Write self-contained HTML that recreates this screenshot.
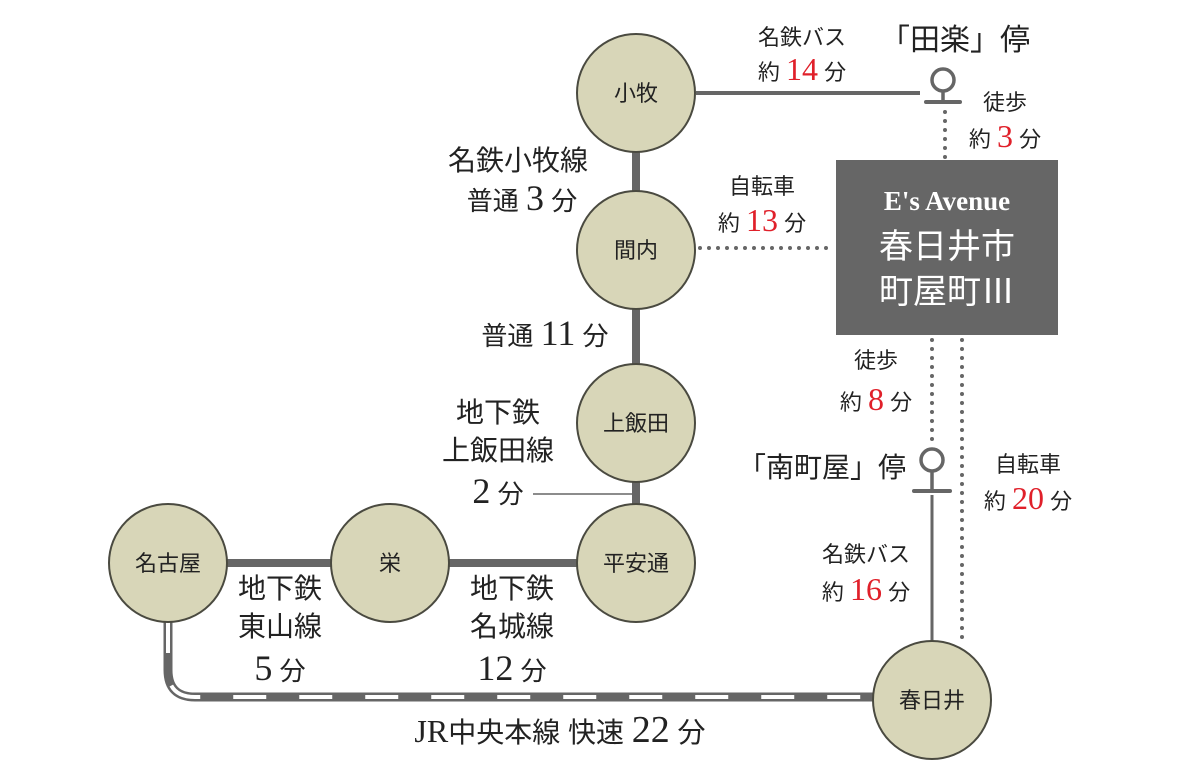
<!DOCTYPE html><html><head><meta charset="utf-8"><style>
body{margin:0;background:#fff}
svg{display:block}
text{font-family:"Liberation Sans","Noto Sans CJK JP",sans-serif;fill:#222}
.n{font-family:"Liberation Serif","Noto Serif CJK SC",serif}
.r{fill:#e0202a}
</style></head><body>
<svg width="1200" height="780" viewBox="0 0 1200 780">
<g stroke="#666" fill="none">
<line x1="636" y1="140" x2="636" y2="200" stroke-width="8"/>
<line x1="636" y1="300" x2="636" y2="370" stroke-width="8"/>
<line x1="636" y1="470" x2="636" y2="510" stroke-width="8"/>
<line x1="220" y1="563" x2="590" y2="563" stroke-width="8"/>
<line x1="696" y1="93" x2="920" y2="93" stroke-width="4"/>
<line x1="533" y1="494" x2="636" y2="494" stroke-width="1.5"/>
<line x1="932" y1="495" x2="932" y2="645" stroke-width="3"/>
<g stroke-dasharray="0 9" stroke-linecap="round" stroke-width="4">
<line x1="945" y1="112" x2="945" y2="158"/>
<line x1="700" y1="248" x2="834" y2="248"/>
<line x1="932" y1="340" x2="932" y2="446"/>
<line x1="962" y1="340" x2="962" y2="640"/>
</g>
<path d="M168 620 V670 Q168 697 195 697 H890" stroke-width="9"/>
<path d="M168 620 V670 Q168 697 195 697 H890" stroke="#fff" stroke-width="4" stroke-dasharray="33 33"/>
<circle cx="943" cy="80" r="11" stroke-width="3.5"/>
<line x1="943" y1="91" x2="943" y2="101" stroke-width="3.5"/>
<line x1="926" y1="102" x2="960" y2="102" stroke-width="4" stroke-linecap="round"/>
<circle cx="932" cy="460" r="11" stroke-width="3.5"/>
<line x1="932" y1="471" x2="932" y2="490" stroke-width="3.5"/>
<line x1="914" y1="491" x2="950" y2="491" stroke-width="4" stroke-linecap="round"/>
</g>
<g fill="#d8d6b8" stroke="#4a4a40" stroke-width="2">
<circle cx="636" cy="93" r="59"/>
<circle cx="636" cy="250" r="59"/>
<circle cx="636" cy="423" r="59"/>
<circle cx="636" cy="563" r="59"/>
<circle cx="168" cy="563" r="59"/>
<circle cx="390" cy="563" r="59"/>
<circle cx="932" cy="700" r="59"/>
</g>
<g font-size="22" text-anchor="middle">
<text x="636" y="101">小牧</text>
<text x="636" y="258">間内</text>
<text x="636" y="431">上飯田</text>
<text x="636" y="571">平安通</text>
<text x="168" y="571">名古屋</text>
<text x="390" y="571">栄</text>
<text x="932" y="708">春日井</text>
</g>
<rect x="836" y="160" width="222" height="175" fill="#666"/>
<g text-anchor="middle">
<text x="947" y="210" font-size="27" class="n" font-weight="bold" style="fill:#fff">E's Avenue</text>
<text x="947" y="258" font-size="34" style="fill:#fff">春日井市</text>
<text x="947" y="303" font-size="34" style="fill:#fff">町屋町Ⅲ</text>
</g>
<g font-size="22" text-anchor="middle">
<text x="802" y="45">名鉄バス</text>
<text x="802" y="80">約 <tspan class="n r" font-size="32">14</tspan> 分</text>
<text x="955" y="50" font-size="30">「田楽」停</text>
<text x="1005" y="110">徒歩</text>
<text x="1005" y="147">約 <tspan class="n r" font-size="32">3</tspan> 分</text>
<text x="518" y="170" font-size="28">名鉄小牧線</text>
<text x="522" y="210" font-size="26">普通 <tspan class="n" font-size="36">3</tspan> 分</text>
<text x="762" y="194">自転車</text>
<text x="762" y="231">約 <tspan class="n r" font-size="32">13</tspan> 分</text>
<text x="545" y="345" font-size="26">普通 <tspan class="n" font-size="36">11</tspan> 分</text>
<text x="498" y="422" font-size="28">地下鉄</text>
<text x="498" y="460" font-size="28">上飯田線</text>
<text x="498" y="503" font-size="26"><tspan class="n" font-size="36">2</tspan> 分</text>
<text x="876" y="368">徒歩</text>
<text x="876" y="410">約 <tspan class="n r" font-size="32">8</tspan> 分</text>
<text x="822" y="477" font-size="28">「南町屋」停</text>
<text x="1028" y="472">自転車</text>
<text x="1028" y="509">約 <tspan class="n r" font-size="32">20</tspan> 分</text>
<text x="866" y="562">名鉄バス</text>
<text x="866" y="600">約 <tspan class="n r" font-size="32">16</tspan> 分</text>
<text x="280" y="598" font-size="28">地下鉄</text>
<text x="280" y="636" font-size="28">東山線</text>
<text x="280" y="680" font-size="26"><tspan class="n" font-size="36">5</tspan> 分</text>
<text x="512" y="598" font-size="28">地下鉄</text>
<text x="512" y="636" font-size="28">名城線</text>
<text x="512" y="680" font-size="26"><tspan class="n" font-size="36">12</tspan> 分</text>
<text x="560" y="742" font-size="28"><tspan class="n" font-size="32">JR</tspan>中央本線 快速 <tspan class="n" font-size="38">22</tspan> 分</text>
</g>
</svg>
</body></html>
